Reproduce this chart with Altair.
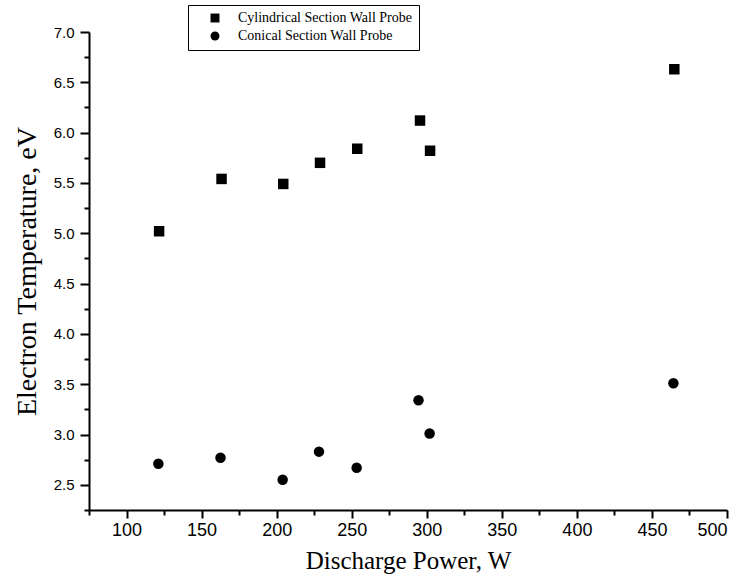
import altair as alt
import pandas as pd

series_names = ["Cylindrical Section Wall Probe", "Conical Section Wall Probe"]
power_cyl = [121.7, 163.3, 204.4, 228.9, 253.7, 295.5, 302.2, 464.9]
temp_cyl = [5.02, 5.54, 5.49, 5.70, 5.84, 6.12, 5.82, 6.63]
power_con = [121.2, 162.6, 204.0, 228.2, 253.3, 294.5, 301.9, 464.3]
temp_con = [2.71, 2.77, 2.55, 2.83, 2.67, 3.34, 3.01, 3.51]

x_major = [100, 150, 200, 250, 300, 350, 400, 450, 500]
x_minor = [75, 125, 175, 225, 275, 325, 375, 425, 475]
y_major = [2.5, 3.0, 3.5, 4.0, 4.5, 5.0, 5.5, 6.0, 6.5, 7.0]
y_minor = [2.25, 2.75, 3.25, 3.75, 4.25, 4.75, 5.25, 5.75, 6.25, 6.75]

df = pd.concat([
    pd.DataFrame({"power": power_cyl, "temp": temp_cyl, "series": series_names[0]}),
    pd.DataFrame({"power": power_con, "temp": temp_con, "series": series_names[1]}),
])

xs = alt.Scale(domain=[75, 500], nice=False, zero=False)
ys = alt.Scale(domain=[2.25, 7.0], nice=False, zero=False)

major = alt.Chart(df).mark_point(filled=True, size=110, opacity=1, color="black").encode(
    x=alt.X("power:Q", scale=xs, axis=alt.Axis(
        values=x_major, orient="bottom", title="Discharge Power, W",
        labelFont="Liberation Sans", labelFontSize=18, labelColor="black",
        titleFont="Liberation Serif", titleFontSize=25, titleFontWeight="normal",
        titleColor="black", titlePadding=9, tickSize=8, tickWidth=2,
        tickColor="black", domainColor="black", domainWidth=2, grid=False,
        labelPadding=3)),
    y=alt.Y("temp:Q", scale=ys, axis=alt.Axis(
        values=y_major, orient="left", title="Electron Temperature, eV", format=".1f",
        labelFont="Liberation Sans", labelFontSize=15, labelColor="black",
        titleFont="Liberation Serif", titleFontSize=28, titleFontWeight="normal",
        titleColor="black", titlePadding=12, tickSize=9, tickWidth=2,
        tickColor="black", domainColor="black", domainWidth=2, grid=False,
        labelPadding=6)),
    shape=alt.Shape("series:N", scale=alt.Scale(domain=series_names, range=["square", "circle"]),
                    legend=alt.Legend(title=None, orient="none", legendX=99, legendY=-27,
                                      strokeColor="black", fillColor="white", padding=6,
                                      symbolOffset=14, symbolSize=80, symbolFillColor="black",
                                      symbolStrokeColor="black", labelFont="Liberation Serif",
                                      labelFontSize=14, labelColor="black", labelOffset=16,
                                      labelLimit=0, rowPadding=2)),
)

minor = alt.Chart(df).mark_point(opacity=0).encode(
    x=alt.X("power:Q", scale=xs, axis=alt.Axis(
        values=x_minor, orient="bottom", title=None, labels=False, domain=False,
        tickSize=5, tickWidth=2, tickColor="black", grid=False)),
    y=alt.Y("temp:Q", scale=ys, axis=alt.Axis(
        values=y_minor, orient="left", title=None, labels=False, domain=False,
        tickSize=5, tickWidth=2, tickColor="black", grid=False)),
)

chart = alt.layer(major, minor).resolve_axis(x="independent", y="independent").properties(
    width=638, height=478,
    background="white",
    autosize=alt.AutoSizeParams(type="none"),
    padding={"left": 89, "top": 32, "right": 16, "bottom": 76},
).configure_view(strokeWidth=0, stroke=None)

chart.save("out.html", embed_options={"renderer": "svg", "actions": False})
